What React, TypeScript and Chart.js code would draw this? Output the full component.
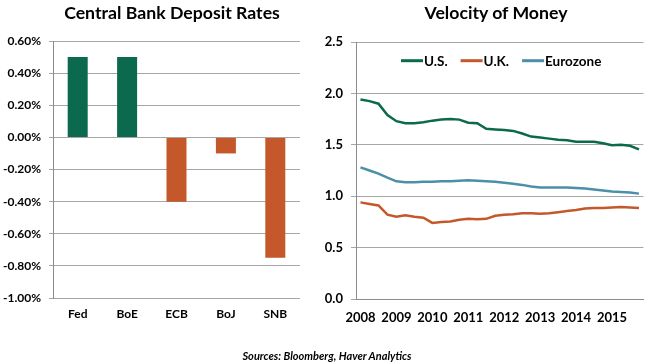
import React, { useEffect, useRef } from "react";
import { Chart, registerables } from "chart.js";
Chart.register(...registerables);

const FONT = "Lato, 'Open Sans', sans-serif";
const GREEN = "#0B6A4D";
const ORANGE = "#C4582A";
const BLUE = "#4B8FA9";
const GRID = "#A6A6A6";
const AXIS = "#8C8C8C";

// Left chart data
const bankCategories = ["Fed", "BoE", "ECB", "BoJ", "SNB"];
const depositRates = [0.5, 0.5, -0.4, -0.1, -0.75];

// Right chart data (quarterly, 2008 Q1 - 2015 Q4)
const velocityYears = ["2008", "2009", "2010", "2011", "2012", "2013", "2014", "2015"];
const quarterLabels = velocityYears.flatMap((y) => [y + " Q1", y + " Q2", y + " Q3", y + " Q4"]);
const usVelocity = [
  1.94, 1.925, 1.9, 1.79, 1.73, 1.71, 1.71, 1.72,
  1.735, 1.745, 1.75, 1.745, 1.715, 1.71, 1.655, 1.65,
  1.645, 1.635, 1.61, 1.58, 1.57, 1.56, 1.55, 1.545,
  1.53, 1.53, 1.53, 1.515, 1.495, 1.5, 1.49, 1.455,
];
const ukVelocity = [
  0.94, 0.925, 0.91, 0.82, 0.8, 0.815, 0.8, 0.79,
  0.74, 0.75, 0.755, 0.77, 0.78, 0.775, 0.78, 0.81,
  0.82, 0.825, 0.835, 0.835, 0.83, 0.835, 0.845, 0.855,
  0.865, 0.88, 0.885, 0.885, 0.89, 0.895, 0.89, 0.885,
];
const euroVelocity = [
  1.28, 1.25, 1.22, 1.18, 1.145, 1.135, 1.135, 1.14,
  1.14, 1.145, 1.145, 1.15, 1.155, 1.15, 1.145, 1.14,
  1.13, 1.12, 1.11, 1.095, 1.085, 1.085, 1.085, 1.085,
  1.08, 1.075, 1.065, 1.055, 1.045, 1.04, 1.035, 1.025,
];
const velocitySeries = [
  { label: "U.S.", data: usVelocity, color: GREEN },
  { label: "U.K.", data: ukVelocity, color: ORANGE },
  { label: "Eurozone", data: euroVelocity, color: BLUE },
];

function BarChart() {
  const ref = useRef<HTMLCanvasElement>(null);
  useEffect(() => {
    const chart = new Chart(ref.current!, {
      type: "bar",
      data: {
        labels: bankCategories,
        datasets: [
          {
            data: depositRates,
            backgroundColor: depositRates.map((v) => (v >= 0 ? GREEN : ORANGE)),
            categoryPercentage: 1,
            barPercentage: 0.405,
          },
        ],
      },
      options: {
        animation: false,
        responsive: false,
        maintainAspectRatio: false,
        layout: { padding: { left: 0, top: 41, right: 20, bottom: 36 } },
        plugins: { legend: { display: false }, tooltip: { enabled: false } },
        scales: {
          x: {
            grid: { display: false, drawTicks: false },
            border: { display: false },
            ticks: { padding: 9, color: "#000", font: { family: FONT, size: 12, weight: "bold" } },
            afterFit: (s: any) => { s.height = 30; },
          },
          y: {
            min: -1,
            max: 0.6,
            ticks: {
              stepSize: 0.2,
              padding: 8,
              color: "#000",
              font: { family: FONT, size: 12, weight: "bold" },
              callback: (v: any) => {
                const n = Math.abs(v) < 1e-9 ? 0 : Number(v);
                return n.toFixed(2) + "%";
              },
            },
            grid: { color: GRID, tickLength: 4, drawTicks: true },
            border: { color: AXIS },
            afterFit: (s: any) => { s.width = 53; },
          },
        },
      },
    } as any);
    return () => chart.destroy();
  }, []);
  return (
    <canvas ref={ref} width={320} height={364}
      style={{ position: "absolute", left: 0, top: 0, width: 320, height: 364 }} />
  );
}

const inlineLegend = {
  id: "inlineLegend",
  afterDraw(chart: any) {
    const { ctx, chartArea } = chart;
    let x = chartArea.left + 45;
    const y = chartArea.top + 18.7;
    ctx.save();
    ctx.font = `bold 13.5px ${FONT}`;
    ctx.textBaseline = "middle";
    ctx.textAlign = "left";
    chart.data.datasets.forEach((ds: any) => {
      ctx.strokeStyle = ds.borderColor;
      ctx.lineWidth = 3;
      ctx.beginPath();
      ctx.moveTo(x, y);
      ctx.lineTo(x + 22, y);
      ctx.stroke();
      ctx.fillStyle = "#000";
      ctx.fillText(ds.label, x + 23, y + 1);
      x += 23 + ctx.measureText(ds.label).width + 13;
    });
    ctx.restore();
  },
};

function LineChart() {
  const ref = useRef<HTMLCanvasElement>(null);
  useEffect(() => {
    const chart = new Chart(ref.current!, {
      type: "line",
      data: {
        labels: quarterLabels,
        datasets: velocitySeries.map((s) => ({
          label: s.label,
          data: s.data,
          borderColor: s.color,
          backgroundColor: s.color,
          borderWidth: 2.5,
          pointRadius: 0,
          tension: 0,
        })),
      },
      options: {
        animation: false,
        responsive: false,
        maintainAspectRatio: false,
        layout: { padding: { left: 0, top: 42, right: 3, bottom: 35 } },
        plugins: { legend: { display: false }, tooltip: { enabled: false } },
        scales: {
          x: {
            offset: true,
            grid: { display: false, drawTicks: false },
            border: { display: true, color: AXIS },
            ticks: {
              autoSkip: false,
              maxRotation: 0,
              padding: 11,
              color: "#000",
              font: { family: FONT, size: 13, weight: "bold" },
              callback: (v: any, i: number) => (i % 4 === 0 ? velocityYears[i / 4] : ""),
            },
            afterFit: (s: any) => { s.height = 30; },
          },
          y: {
            min: 0,
            max: 2.5,
            ticks: {
              stepSize: 0.5,
              padding: 8,
              color: "#000",
              font: { family: FONT, size: 13, weight: "bold" },
              callback: (v: any) => Number(v).toFixed(1),
            },
            grid: { color: GRID, tickLength: 5, drawTicks: true },
            border: { color: AXIS },
            afterFit: (s: any) => { s.width = 36; },
          },
        },
      },
      plugins: [inlineLegend],
    } as any);
    return () => chart.destroy();
  }, []);
  return (
    <canvas ref={ref} width={330} height={364}
      style={{ position: "absolute", left: 320, top: 0, width: 330, height: 364 }} />
  );
}

const titleStyle: React.CSSProperties = {
  position: "absolute",
  top: 2,
  transform: "translateX(-50%)",
  whiteSpace: "nowrap",
  fontFamily: FONT,
  fontWeight: "bold",
  fontSize: 17.7,
  lineHeight: "21px",
  color: "#000",
};

export default function App() {
  return (
    <div style={{ position: "absolute", left: 0, top: 0, width: 650, height: 364, background: "#fff", overflow: "hidden", fontFamily: FONT }}>
      <BarChart />
      <LineChart />
      <div style={{ ...titleStyle, left: 172 }}>Central Bank Deposit Rates</div>
      <div style={{ ...titleStyle, left: 496 }}>Velocity of Money</div>
      <div style={{ position: "absolute", left: 327, top: 349, transform: "translateX(-50%)", whiteSpace: "nowrap", fontFamily: FONT, fontWeight: "bold", fontStyle: "italic", fontSize: 11, lineHeight: "14px", color: "#000" }}>
        Sources: Bloomberg, Haver Analytics
      </div>
    </div>
  );
}
